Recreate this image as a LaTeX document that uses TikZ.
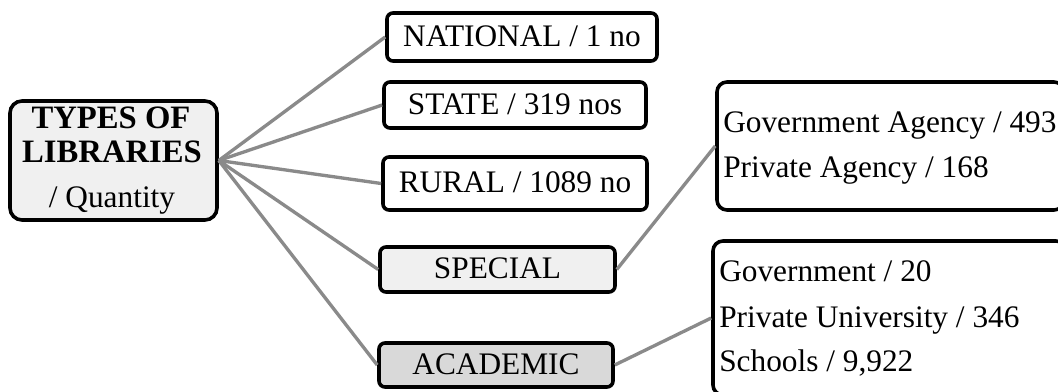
\documentclass[tikz,border=0pt]{standalone}
\usepackage{fontspec}
\setmainfont{Liberation Serif}
\definecolor{linkgray}{HTML}{8A8A8A}
\definecolor{paleface}{HTML}{F0F0F0}
\definecolor{darkface}{HTML}{D9D9D9}
\tikzset{
  catbox/.style={draw=black, line width=2.7pt, rounded corners=4.5pt,
    fill=white, inner sep=0pt, text height=14pt, text depth=0pt,
    font=\fontsize{23.5}{28}\selectfont},
  listbox/.style={draw=black, line width=2.7pt, rounded corners=7.5pt,
    fill=white, inner sep=0pt},
  listtext/.style={anchor=base west, inner sep=0pt,
    font=\fontsize{23.5}{28}\selectfont},
  roottext/.style={anchor=base, inner sep=0pt,
    font=\fontsize{23.5}{28}\selectfont},
  rootbold/.style={roottext, font=\fontsize{24.5}{28}\selectfont\bfseries},
  link/.style={draw=linkgray, line width=2.5pt}
}
\begin{document}
\begin{tikzpicture}[x=0.75pt, y=-0.75pt]
\useasboundingbox (0,0) rectangle (1058,392);
\clip (0,0) rectangle (1058,392);
\fill[white] (0,0) rectangle (1058,392);

% root
\node[draw=black, line width=2.7pt, rounded corners=9pt, fill=paleface,
  minimum width=155.25pt, minimum height=89.25pt, inner sep=0pt]
  (root) at (113.5,160.5) {};
\node[rootbold] (t1) at (111,129) {TYPES OF};
\node[rootbold] (t2) at (112,163) {LIBRARIES};
\node[roottext] (t3) at (112,208) {/ Quantity};

% categories
\node[catbox, minimum width=202.5pt, minimum height=36pt] (nat) at (522,37) {NATIONAL / 1 no};
\node[catbox, minimum width=196.5pt, minimum height=34.5pt] (sta) at (515,105) {STATE / 319 nos};
\node[catbox, minimum width=198pt, minimum height=39.75pt] (rur) at (515,183.5) {RURAL / 1089 no};
\node[catbox, fill=paleface, minimum width=176.25pt, minimum height=33.75pt] (spe) at (497.5,269.5) {SPECIAL};
\node[catbox, fill=darkface, minimum width=175.5pt, minimum height=33pt] (aca) at (496,365) {ACADEMIC};

% sub-lists
\node[listbox, minimum width=260.25pt, minimum height=96pt] (ag) at (890.5,146) {};
\node[listtext] (ag1) at (723,133) {Government Agency / 493};
\node[listtext] (ag2) at (723,178) {Private Agency / 168};

\node[listbox, minimum width=264.75pt, minimum height=115.5pt] (ac) at (889.5,318) {};
\node[listtext] (ac1) at (719,282) {Government / 20};
\node[listtext] (ac2) at (719,328) {Private University / 346};
\node[listtext] (ac3) at (719,372) {Schools / 9,922};

% connectors
\foreach \c in {nat,sta,rur,spe,aca}
  \draw[link] (root.east) -- (\c.west);
\draw[link] (spe.east) -- (ag.west);
\draw[link] (aca.east) -- (ac.west);
\end{tikzpicture}
\end{document}
